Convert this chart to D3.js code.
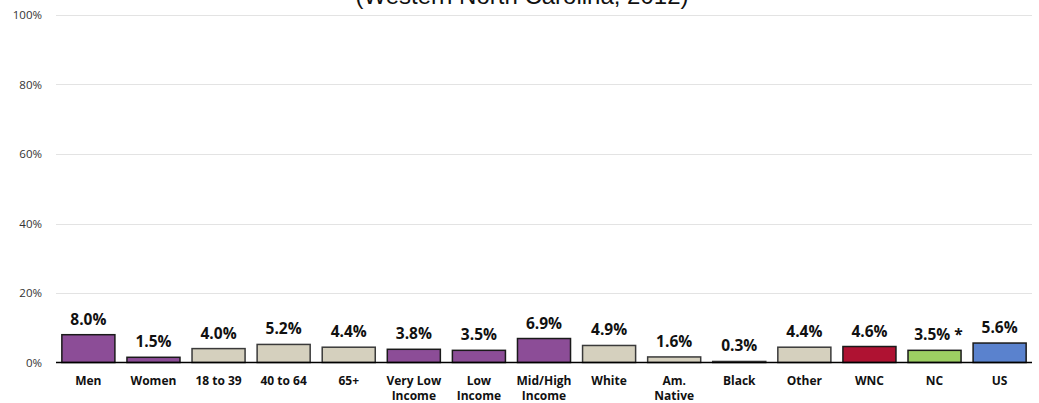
<!DOCTYPE html>
<html>
<head>
<meta charset="utf-8">
<script src="https://cdn.jsdelivr.net/npm/d3@7"></script>
<style>
  body { margin: 0; background: #fff; }
  svg { display: block; }
</style>
</head>
<body>
<svg id="chart" width="1039" height="403"></svg>
<script>
const categories = ["Men", "Women", "18 to 39", "40 to 64", "65+", "Very Low|Income", "Low|Income", "Mid/High|Income", "White", "Am.|Native", "Black", "Other", "WNC", "NC", "US"];
const values = [8.0, 1.5, 4.0, 5.2, 4.4, 3.8, 3.5, 6.9, 4.9, 1.6, 0.3, 4.4, 4.6, 3.5, 5.6];
const valueLabels = ["8.0%", "1.5%", "4.0%", "5.2%", "4.4%", "3.8%", "3.5%", "6.9%", "4.9%", "1.6%", "0.3%", "4.4%", "4.6%", "3.5% *", "5.6%"];
const groups = ["purple", "purple", "beige", "beige", "beige", "purple", "purple", "purple", "beige", "beige", "beige", "beige", "red", "green", "blue"];
const yTicks = [0, 20, 40, 60, 80, 100];
const title = "(Western North Carolina, 2012)";

const colors = { purple: "#8C4D97", beige: "#D5D0BE", red: "#AF1232", green: "#9DCF63", blue: "#5A82CE" };

const svg = d3.select("#chart");
const mLeft = 56, mRight = 1032, mTop = 15, mBottom = 362.5;

const x = d3.scaleBand().domain(categories).range([mLeft, mRight]).paddingInner(0.185).paddingOuter(0.09);
const y = d3.scaleLinear().domain([0, 100]).range([mBottom, mTop]);

// gridlines
svg.append("g").selectAll("line").data(yTicks.filter(d => d > 0)).join("line")
  .attr("x1", mLeft).attr("x2", mRight)
  .attr("y1", d => Math.round(y(d)) + 0.5).attr("y2", d => Math.round(y(d)) + 0.5)
  .attr("stroke", "#e3e3e3").attr("stroke-width", 1);

// y axis labels
svg.append("g").selectAll("text").data(yTicks).join("text")
  .attr("x", 42).attr("y", d => y(d) + 4)
  .attr("text-anchor", "end")
  .attr("font-family", "'Open Sans', sans-serif")
  .attr("font-size", "11.5px")
  .attr("fill", "#333")
  .text(d => d + "%");

// bars
const data = categories.map((c, i) => ({ c, v: values[i], lab: valueLabels[i], g: groups[i] }));
svg.append("g").selectAll("rect").data(data).join("rect")
  .attr("x", d => x(d.c))
  .attr("y", d => y(d.v))
  .attr("width", x.bandwidth())
  .attr("height", d => Math.max(1, y(0) - y(d.v)))
  .attr("fill", d => colors[d.g])
  .attr("stroke", d => d.g === "beige" ? "#3a3a3a" : "#1a1a1a")
  .attr("stroke-width", 1.5);

// baseline
svg.append("line").attr("x1", mLeft).attr("x2", mRight)
  .attr("y1", y(0)).attr("y2", y(0))
  .attr("stroke", "#000").attr("stroke-width", 1.5);

// value labels
svg.append("g").selectAll("text").data(data).join("text")
  .attr("x", d => x(d.c) + x.bandwidth() / 2 + (d.lab.includes("*") ? 4 : 0))
  .attr("y", d => y(d.v) - 10)
  .attr("text-anchor", "middle")
  .attr("font-family", "'Open Sans', sans-serif")
  .attr("font-weight", "bold")
  .attr("font-size", "15.5px")
  .attr("fill", "#111")
  .text(d => d.lab);

// category labels
const cat = svg.append("g").selectAll("text").data(data).join("text")
  .attr("text-anchor", "middle")
  .attr("font-family", "'Open Sans', sans-serif")
  .attr("font-weight", "bold")
  .attr("font-size", "12px")
  .attr("fill", "#111");
cat.each(function(d) {
  const lines = d.c.split("|");
  const t = d3.select(this);
  lines.forEach((ln, i) => {
    t.append("tspan").attr("x", x(d.c) + x.bandwidth() / 2).attr("y", 384.5 + i * 15).text(ln);
  });
});

// title
svg.append("text").attr("x", 522).attr("y", 4)
  .attr("text-anchor", "middle")
  .attr("font-family", "'Liberation Sans', Arial, sans-serif")
  .attr("font-size", "24px")
  .attr("fill", "#111")
  .text(title);
</script>
</body>
</html>
